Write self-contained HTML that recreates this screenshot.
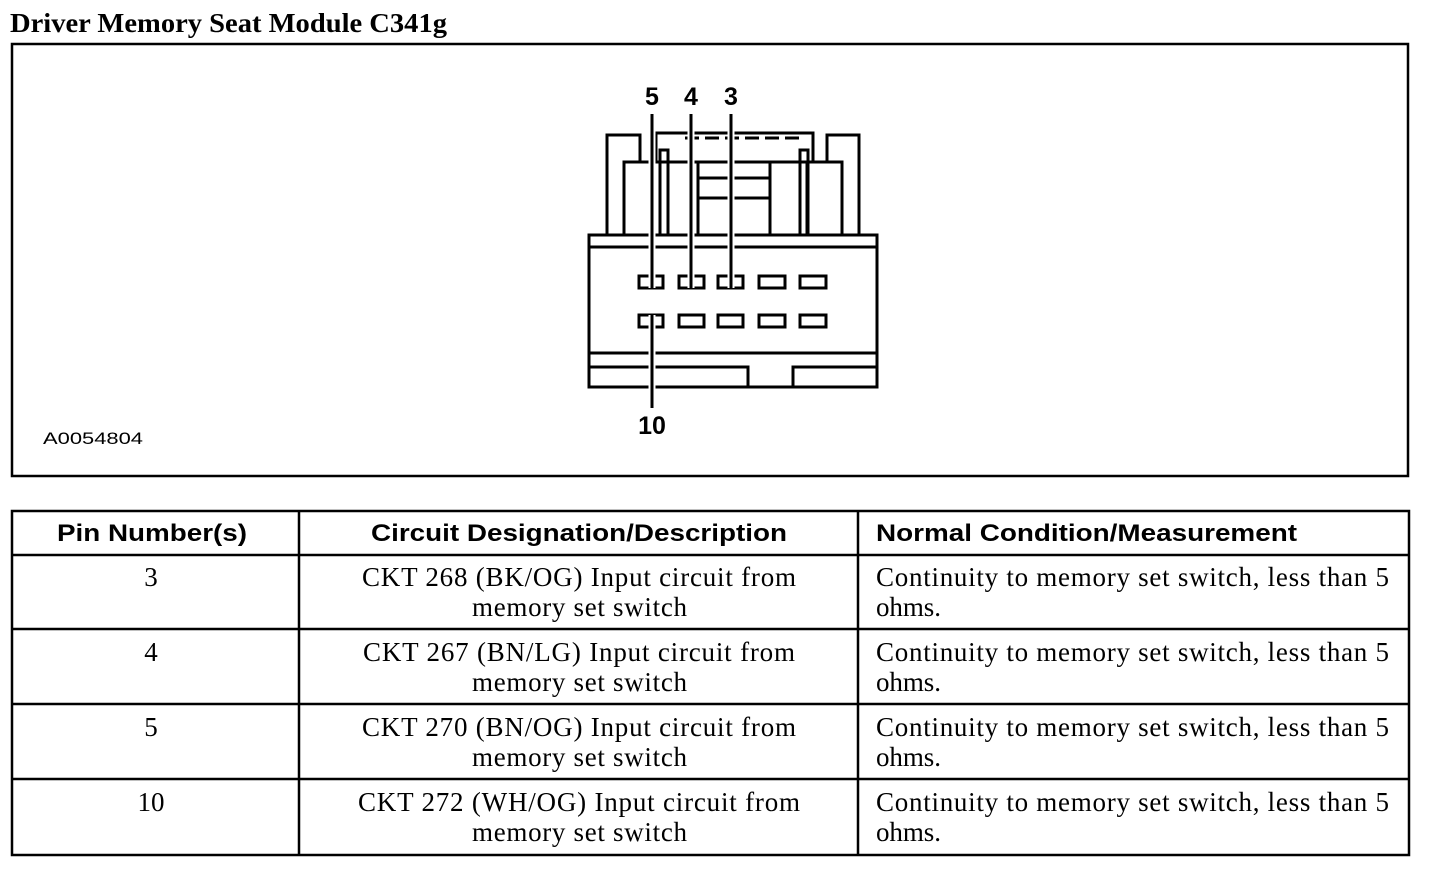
<!DOCTYPE html>
<html><head><meta charset="utf-8"><style>
html,body{margin:0;padding:0;background:#fff;}
svg{display:block;}
.t{font-family:"Liberation Serif",serif;font-size:27px;fill:#000;}
.h{font-family:"Liberation Sans",sans-serif;font-weight:bold;font-size:24px;fill:#000;}
.n{font-family:"Liberation Sans",sans-serif;font-weight:bold;font-size:25px;fill:#000;text-anchor:middle;}
</style></head><body>
<svg width="1440" height="878" viewBox="0 0 1440 878" xmlns="http://www.w3.org/2000/svg">
<text x="10" y="32" font-family="Liberation Serif,serif" font-weight="bold" font-size="27" textLength="437" lengthAdjust="spacingAndGlyphs">Driver Memory Seat Module C341g</text>
<rect x="12" y="44" width="1396" height="432" fill="none" stroke="#000" stroke-width="2.5"/>
<g fill="none" stroke="#000" stroke-width="3">
<rect x="607" y="135" width="33" height="100"/>
<rect x="827" y="135" width="32" height="100"/>
<path d="M656 162 V133 H813 V162"/>
<path d="M685 138 H800" stroke-dasharray="14,6"/>
<rect x="624" y="162" width="36" height="85" fill="#fff"/>
<rect x="807" y="162" width="35" height="85" fill="#fff"/>
<rect x="660" y="150" width="8" height="85"/>
<rect x="800" y="150" width="8" height="85"/>
<path d="M640 162 H827"/>
<rect x="698" y="162" width="72" height="73"/>
<path d="M698 178 H770 M698 198 H770"/>
<rect x="589" y="235" width="288" height="152" fill="#fff"/>
<path d="M589 247 H877 M589 353 H877 M589 367 H748 V387 M793 387 V367 H877"/>
<rect x="639" y="276" width="24" height="12"/>
<rect x="679" y="276" width="25" height="12"/>
<rect x="718" y="276" width="25" height="12"/>
<rect x="759" y="276" width="26" height="12"/>
<rect x="800" y="276" width="26" height="12"/>
<rect x="639" y="315" width="24" height="12"/>
<rect x="679" y="315" width="25" height="12"/>
<rect x="718" y="315" width="25" height="12"/>
<rect x="759" y="315" width="26" height="12"/>
<rect x="800" y="315" width="26" height="12"/>
<path d="M652 114 V288 M691 114 V288 M731 114 V288 M652 315 V408" stroke="#fff" stroke-width="7"/>
<path d="M652 114 V288 M691 114 V288 M731 114 V288 M652 315 V408"/>
</g>
<text class="n" x="652" y="105">5</text>
<text class="n" x="691" y="105">4</text>
<text class="n" x="731" y="105">3</text>
<text class="n" x="652" y="434">10</text>
<text x="43" y="444" font-family="Liberation Sans,sans-serif" font-size="17" textLength="100" lengthAdjust="spacingAndGlyphs">A0054804</text>
<g stroke="#000" stroke-width="2.5" fill="none">
<rect x="12" y="511" width="1397" height="344"/>
<path d="M299 511 V855 M858 511 V855 M12 555 H1409 M12 629 H1409 M12 704 H1409 M12 779 H1409"/>
</g>
<text class="h" x="57" y="541" textLength="190" lengthAdjust="spacingAndGlyphs">Pin Number(s)</text>
<text class="h" x="371" y="541" textLength="416" lengthAdjust="spacingAndGlyphs">Circuit Designation/Description</text>
<text class="h" x="876" y="541" textLength="421" lengthAdjust="spacingAndGlyphs">Normal Condition/Measurement</text>
<g class="t">
<text x="151" y="586" text-anchor="middle">3</text>
<text x="362" y="586" textLength="434" lengthAdjust="spacing">CKT 268 (BK/OG) Input circuit from</text>
<text x="472" y="616" textLength="215" lengthAdjust="spacing">memory set switch</text>
<text x="876" y="586" textLength="513" lengthAdjust="spacing">Continuity to memory set switch, less than 5</text>
<text x="876" y="616" textLength="65" lengthAdjust="spacing">ohms.</text>

<text x="151" y="661" text-anchor="middle">4</text>
<text x="363" y="661" textLength="432" lengthAdjust="spacing">CKT 267 (BN/LG) Input circuit from</text>
<text x="472" y="691" textLength="215" lengthAdjust="spacing">memory set switch</text>
<text x="876" y="661" textLength="513" lengthAdjust="spacing">Continuity to memory set switch, less than 5</text>
<text x="876" y="691" textLength="65" lengthAdjust="spacing">ohms.</text>

<text x="151" y="736" text-anchor="middle">5</text>
<text x="362" y="736" textLength="434" lengthAdjust="spacing">CKT 270 (BN/OG) Input circuit from</text>
<text x="472" y="766" textLength="215" lengthAdjust="spacing">memory set switch</text>
<text x="876" y="736" textLength="513" lengthAdjust="spacing">Continuity to memory set switch, less than 5</text>
<text x="876" y="766" textLength="65" lengthAdjust="spacing">ohms.</text>

<text x="151" y="811" text-anchor="middle">10</text>
<text x="358" y="811" textLength="442" lengthAdjust="spacing">CKT 272 (WH/OG) Input circuit from</text>
<text x="472" y="841" textLength="215" lengthAdjust="spacing">memory set switch</text>
<text x="876" y="811" textLength="513" lengthAdjust="spacing">Continuity to memory set switch, less than 5</text>
<text x="876" y="841" textLength="65" lengthAdjust="spacing">ohms.</text>
</g>
</svg>
</body></html>
